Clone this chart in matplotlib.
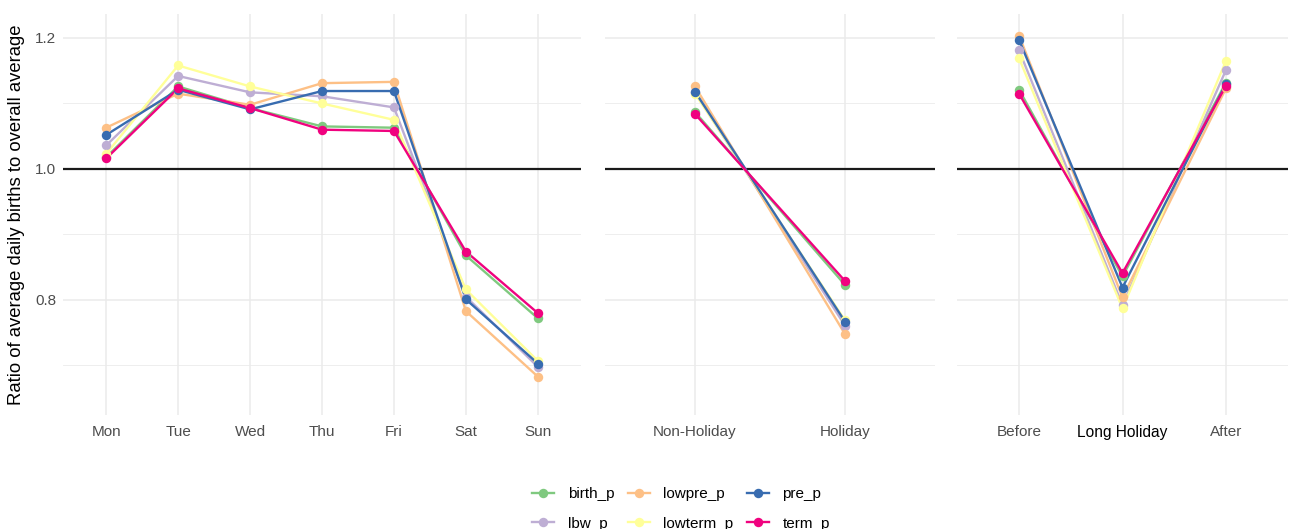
import matplotlib
matplotlib.use("Agg")
import matplotlib.pyplot as plt
from matplotlib.lines import Line2D

plt.rcParams['font.family'] = ['Liberation Sans', 'DejaVu Sans']

series = ["birth_p", "lbw_p", "lowpre_p", "lowterm_p", "pre_p", "term_p"]
colors = ["#7FC97F", "#BEAED4", "#FDC086", "#FFFF99", "#386CB0", "#F0027F"]

days = ["Mon", "Tue", "Wed", "Thu", "Fri", "Sat", "Sun"]
day_vals = {
    "birth_p":   [1.018, 1.126, 1.093, 1.065, 1.063, 0.868, 0.772],
    "lbw_p":     [1.036, 1.142, 1.117, 1.111, 1.094, 0.805, 0.698],
    "lowpre_p":  [1.063, 1.115, 1.098, 1.131, 1.133, 0.783, 0.683],
    "lowterm_p": [1.023, 1.158, 1.126, 1.100, 1.075, 0.816, 0.707],
    "pre_p":     [1.052, 1.121, 1.091, 1.119, 1.119, 0.801, 0.703],
    "term_p":    [1.016, 1.123, 1.093, 1.060, 1.058, 0.874, 0.780],
}

hol = ["Non-Holiday", "Holiday"]
hol_vals = {
    "birth_p":   [1.087, 0.823],
    "lbw_p":     [1.117, 0.761],
    "lowpre_p":  [1.126, 0.748],
    "lowterm_p": [1.115, 0.769],
    "pre_p":     [1.118, 0.767],
    "term_p":    [1.084, 0.829],
}

longhol = ["Before", "Long Holiday", "After"]
longhol_ticklabels = ["Before", "", "After"]
longhol_vals = {
    "birth_p":   [1.121, 0.836, 1.132],
    "lbw_p":     [1.181, 0.792, 1.151],
    "lowpre_p":  [1.2035, 0.804, 1.123],
    "lowterm_p": [1.169, 0.787, 1.165],
    "pre_p":     [1.197, 0.819, 1.130],
    "term_p":    [1.115, 0.841, 1.127],
}

W, H = 1291, 529
fig = plt.figure(figsize=(W / 100, H / 100), dpi=100)

top_px, bot_px = 14, 415
panels = [
    (63, 518, days, days, day_vals),
    (605, 330, hol, hol, hol_vals),
    (957, 331, longhol, longhol_ticklabels, longhol_vals),
]
ylim = (0.6244, 1.2366)
grid_c = "#EBEBEB"
for i, (x0, w, cats, ticklabels, vals) in enumerate(panels):
    ax = fig.add_axes([x0 / W, 1 - bot_px / H, w / W, (bot_px - top_px) / H])
    n = len(cats)
    xs = list(range(n))
    ax.set_xlim(-0.6, n - 1 + 0.6)
    ax.set_ylim(*ylim)
    for s in ax.spines.values():
        s.set_visible(False)
    for y in [0.8, 1.0, 1.2]:
        ax.axhline(y, color=grid_c, lw=1.1, zorder=0)
    for y in [0.7, 0.9, 1.1]:
        ax.axhline(y, color=grid_c, lw=0.6, zorder=0)
    for x in xs:
        ax.axvline(x, color=grid_c, lw=1.1, zorder=0)
    ax.axhline(1.0, color="#1a1a1a", lw=1.6, zorder=1)
    for s, c in zip(series, colors):
        ax.plot(xs, vals[s], color=c, lw=1.7, zorder=2)
    for s, c in zip(series, colors):
        ax.plot(xs, vals[s], 'o', color=c, ms=6.8, mec='none', zorder=3)
    ax.set_xticks(xs)
    ax.set_xticklabels(ticklabels, color="#4D4D4D", fontsize=11)
    ax.tick_params(axis='both', length=0, pad=7)
    if i == 0:
        ax.set_yticks([0.8, 1.0, 1.2])
        ax.set_yticklabels(["0.8", "1.0", "1.2"], color="#4D4D4D", fontsize=11)
        ax.tick_params(axis='y', pad=5)
        ax.set_ylabel("Ratio of average daily births to overall average",
                      fontsize=13.3, color="black", labelpad=7)
    else:
        ax.set_yticks([])
    ax.set_facecolor("white")

fig.text(1122 / W, 1 - 433 / H, "Long Holiday", ha="center", va="center",
         fontsize=11.2, color="black")

handles = [Line2D([0], [0], color=c, lw=1.7, marker='o', ms=6.8, mec='none')
           for c in colors]
fig.legend(handles, series, loc="center", ncol=3,
           bbox_to_anchor=(681 / W, 1 - 509 / H), frameon=False,
           fontsize=11, handlelength=1.45, columnspacing=0.85,
           labelspacing=1.0, handletextpad=0.9)

fig.savefig("out.png", dpi=100, facecolor="white")
